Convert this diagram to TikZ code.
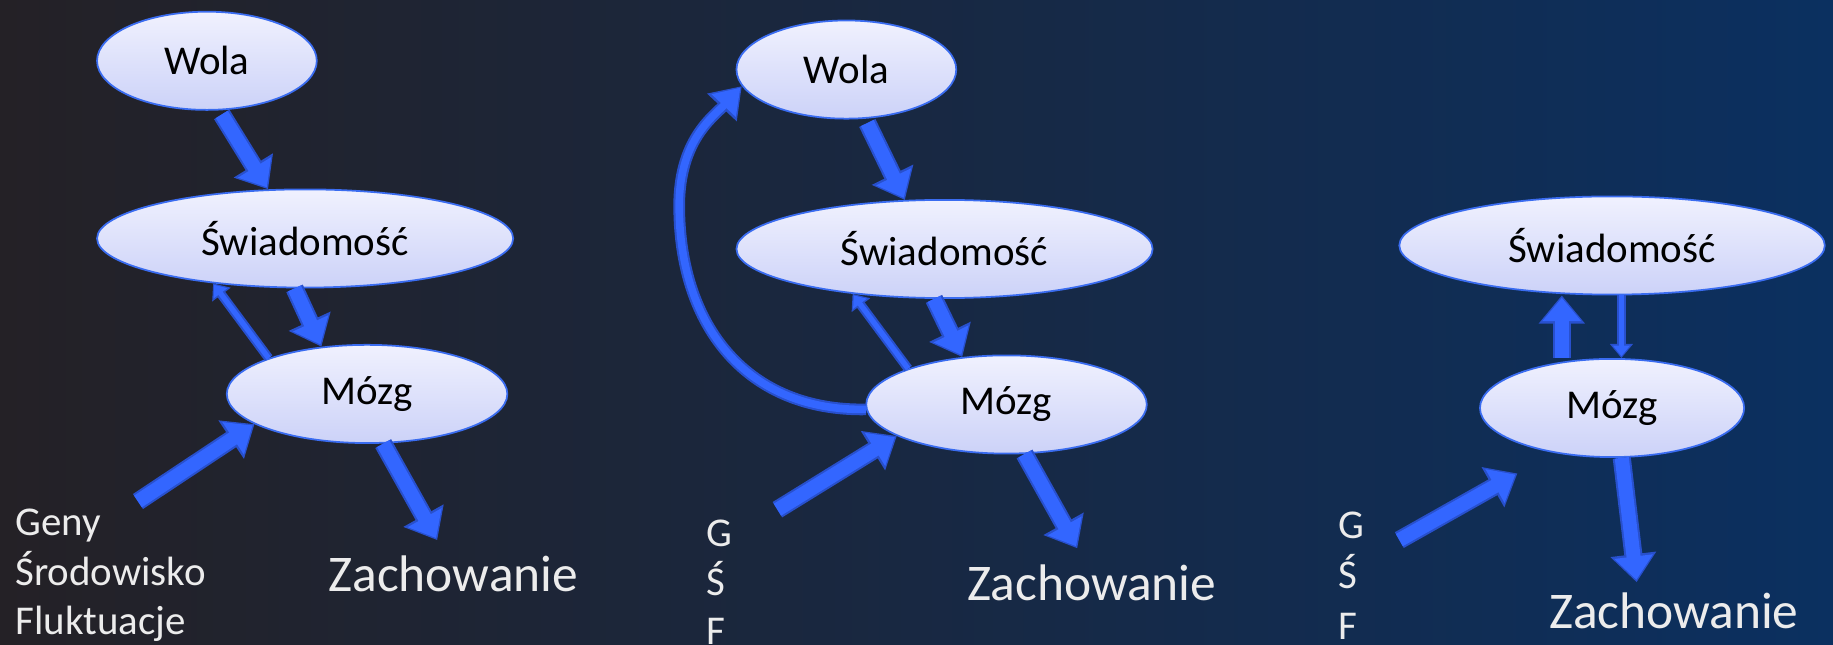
\documentclass[tikz,border=0pt]{standalone}
\usepackage{fontspec}
\setmainfont{Carlito}
\usetikzlibrary{arrows.meta, calc, shapes.geometric}

\definecolor{bgleft}{RGB}{36,33,38}
\definecolor{bgmid}{RGB}{24,40,66}
\definecolor{bgright}{RGB}{11,48,96}
\definecolor{bubbletop}{RGB}{240,241,254}
\definecolor{bubblebot}{RGB}{204,210,248}
\definecolor{bubbleedge}{RGB}{58,108,240}
\definecolor{arrowfill}{RGB}{51,102,255}
\definecolor{arrowedge}{RGB}{40,80,205}
\definecolor{labelgray}{RGB}{236,236,236}

\begin{document}
\begin{tikzpicture}[
    x=1pt, y=-1pt,
    bubble/.style={
        ellipse,
        draw=bubbleedge,
        line width=1.5pt,
        top color=bubbletop,
        bottom color=bubblebot,
        inner sep=0pt,
        minimum height=84pt,
        font=\fontsize{35}{42}\selectfont
    },
    factors/.style={
        anchor=base west,
        align=left,
        inner sep=0pt,
        text=labelgray,
        font=\fontsize{35}{42}\selectfont
    },
    outcome/.style={
        anchor=base west,
        inner sep=0pt,
        text=labelgray,
        font=\fontsize{44}{50}\selectfont
    },
    fatarrow/.style={
        preaction={draw=arrowedge, line width=15.5pt, shorten >=0pt,
            -{Triangle[length=24pt, width=38pt]}},
        draw=arrowfill, line width=12pt, shorten >=2pt,
        -{Triangle[length=20pt, width=32pt]}
    },
    thinarrow/.style={
        preaction={draw=arrowedge, line width=8pt, shorten >=0pt,
            -{Triangle[length=12pt, width=19pt]}},
        draw=arrowfill, line width=4.5pt, shorten >=1.6pt,
        -{Triangle[length=9pt, width=14pt]}
    },
    looparrow/.style={
        preaction={draw=arrowedge, line width=10pt, shorten >=0pt,
            -{Triangle[length=25pt, width=33pt]}},
        draw=arrowfill, line width=6.5pt, shorten >=1.8pt,
        -{Triangle[length=21pt, width=27pt]}
    }
]
\useasboundingbox (0,0) rectangle (1568,551);
\fill[left color=bgleft, right color=bgright, middle color=bgmid] (0,0) rectangle (1568,551);

\node[bubble, minimum width=188pt] (wola1) at (177,52) {Wola};
\node[bubble, minimum width=356pt] (swiad1) at (261,204) {Świadomość};
\node[bubble, minimum width=240pt] (mozg1) at (314,337) {Mózg};
\node[factors] (geny1) at (13,542.5) {Geny\\Środowisko\\Fluktuacje};
\node[outcome] (zach1) at (281,506) {Zachowanie};
\coordinate (in1) at (118,429);
\coordinate (out1) at (374,462);

\draw[fatarrow, shorten <=4pt] (wola1.284) -- (swiad1.127);
\draw[fatarrow] (swiad1.258) -- (mozg1.134);
\draw[thinarrow] (mozg1.160) -- (swiad1.206);
\draw[fatarrow] (in1) -- (mozg1.195);
\draw[fatarrow] (mozg1.288) -- (out1);

\node[bubble, minimum width=188pt] (wola2) at (724,59.5) {Wola};
\node[bubble, minimum width=356pt] (swiad2) at (808,213) {Świadomość};
\node[bubble, minimum width=240pt] (mozg2) at (861,346) {Mózg};
\node[factors] (geny2) at (604,551.3) {G\\Ś\\F};
\node[outcome] (zach2) at (827,513.7) {Zachowanie};
\coordinate (in2) at (665,436);
\coordinate (out2) at (921.5,469);

\draw[fatarrow, shorten <=4pt] (wola2.291) -- (swiad2.129);
\draw[fatarrow] (swiad2.258) -- (mozg2.133);
\draw[thinarrow] (mozg2.160) -- (swiad2.206);
\draw[looparrow] (mozg2.182) .. controls (640,352) and (581,280) .. (581,176)
    .. controls (581,120) and (610,100) .. (wola2.189);
\draw[fatarrow] (in2) -- (mozg2.196);
\draw[fatarrow] (mozg2.290) -- (out2);

\node[bubble, minimum width=364pt] (swiad3) at (1379,210) {Świadomość};
\node[bubble, minimum width=226pt] (mozg3) at (1379,349) {Mózg};
\node[factors, font=\fontsize{35}{43}\selectfont] (geny3) at (1145,546.7) {G\\Ś\\F};
\node[outcome] (zach3) at (1325,538) {Zachowanie};
\coordinate (in3s) at (1197,462);
\coordinate (in3) at (1298,405);
\coordinate (out3) at (1400,498);

\draw[fatarrow] ($(mozg3.north)+(-43,0)$) -- ($(swiad3.south)+(-43,0)$);
\draw[thinarrow] ($(swiad3.south)+(8,0)$) -- ($(mozg3.north)+(8,0)$);
\draw[fatarrow] (in3s) -- (in3);
\draw[fatarrow] (mozg3.281) -- (out3);
\end{tikzpicture}
\end{document}
